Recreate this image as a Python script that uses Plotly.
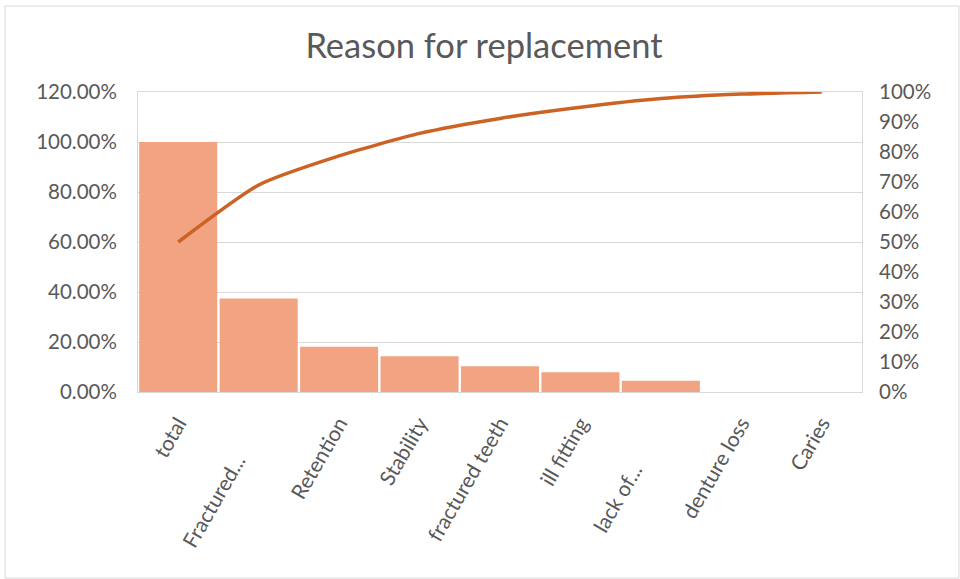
import plotly.graph_objects as go

NB = "\u00a0"
categories = ["total", "Fractured..." + NB * 8, "Retention", "Stability", "fractured teeth",
              "ill fitting", "lack of..." + NB * 10, "denture loss", "Caries"]
bar_values = [1.00, 0.374, 0.181, 0.143, 0.103, 0.079, 0.045, 0.0, 0.0]
cumulative = [0.50, 0.69, 0.787, 0.862, 0.912, 0.949, 0.978, 0.993, 1.00]
left_ticks = [0, 0.2, 0.4, 0.6, 0.8, 1.0, 1.2]
right_ticks = [0, 0.1, 0.2, 0.3, 0.4, 0.5, 0.6, 0.7, 0.8, 0.9, 1.0]

FONT = "Lato"
GRAY = "#595959"
GRID = "#D9D9D9"

fig = go.Figure()
fig.add_trace(go.Bar(x=categories, y=bar_values, marker=dict(color="#F1A382", line=dict(width=0)),
                     yaxis="y", showlegend=False))
fig.add_trace(go.Scatter(x=categories, y=cumulative, mode="lines", yaxis="y2",
                         line=dict(color="#CC6224", width=3.5, shape="spline", smoothing=0.6),
                         showlegend=False))

W, H = 960, 579
ml, mr, mt, mb = 138, 98, 92, 187
pw, ph = W - ml - mr, H - mt - mb

fig.update_layout(
    width=W, height=H,
    margin=dict(l=ml, r=mr, t=mt, b=mb, autoexpand=False),
    paper_bgcolor="white", plot_bgcolor="white",
    bargap=0.03,
    title=dict(text="Reason for replacement", x=484 / W, xanchor="center", xref="container",
               y=1 - 46 / H, yanchor="middle", yref="container",
               font=dict(family=FONT, size=34.5, color=GRAY)),
    font=dict(family=FONT, size=20, color=GRAY),
    xaxis=dict(type="category", tickangle=-60, showgrid=False, ticks="", automargin=False,
               showline=True, linecolor=GRID, mirror=True, ticklabelstandoff=10,
               tickfont=dict(family=FONT, size=21, color=GRAY)),
    yaxis=dict(range=[0, 1.2], tickvals=left_ticks, tickformat=".2%", automargin=False,
               showgrid=True, gridcolor=GRID, gridwidth=1, zeroline=False,
               showline=True, linecolor=GRID, mirror=True, ticks="",
               ticklabelstandoff=16, tickfont=dict(family=FONT, size=20.5, color=GRAY)),
    yaxis2=dict(range=[0, 1.0], tickvals=right_ticks, tickformat=".0%", overlaying="y",
                side="right", showgrid=False, zeroline=False, ticks="", automargin=False,
                ticklabelstandoff=16, tickfont=dict(family=FONT, size=20.5, color=GRAY)),
    shapes=[dict(type="rect", xref="paper", yref="paper",
                 x0=(5 - ml) / pw, x1=(W - 1 - ml) / pw,
                 y0=-(H - 1 - mt - ph) / ph, y1=1 + (mt - 6) / ph,
                 line=dict(color="#D9D9D9", width=1), fillcolor="rgba(0,0,0,0)", layer="below")],
)

fig.write_html("out.html")
